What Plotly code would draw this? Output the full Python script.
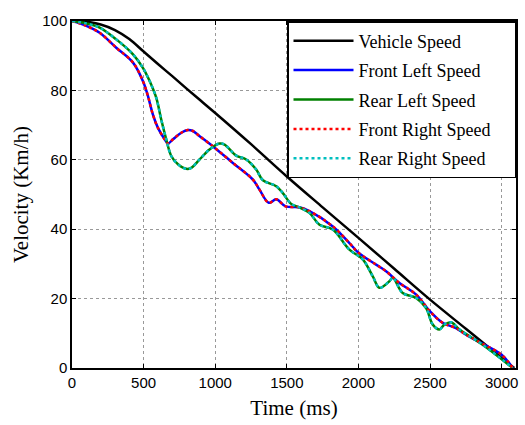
import plotly.graph_objects as go

# Vehicle speed
veh_t = [0, 100, 200, 300, 400, 500, 600, 700, 800, 900, 1000, 1250, 1500, 1750, 2000, 2250, 2500, 2750, 3000, 3088]
veh_v = [100, 99.8, 99.0, 97.4, 94.8, 91.2, 87.6, 84.1, 80.5, 77.0, 73.5, 64.5, 55.2, 46.3, 37.5, 28.6, 19.7, 11.3, 2.9, 0]

# Front left / front right (overlapping)
fl_t = [0, 100, 193, 309, 426, 495, 530, 565, 600, 647, 670, 705, 763, 809, 844, 891, 995, 1123, 1263, 1309, 1374, 1426, 1491, 1588, 1658, 1821, 1937, 2000, 2123, 2193, 2286, 2402, 2500, 2588, 2681, 2751, 2870, 3000, 3077]
fl_v = [100, 98.6, 96.6, 92.3, 88.0, 82.7, 78.4, 73.0, 69.2, 65.9, 64.7, 65.9, 67.8, 68.6, 68.3, 66.8, 63.5, 59.1, 54.3, 51.4, 47.6, 48.6, 46.6, 46.3, 45.2, 40.8, 36.0, 33.2, 29.8, 27.9, 24.5, 21.2, 16.3, 13.0, 11.5, 9.6, 6.9, 3.8, 0]
fr_t = [0, 100, 193, 309, 426, 495, 530, 565, 600, 647, 670, 705, 763, 809, 844, 891, 995, 1123, 1263, 1309, 1374, 1426, 1491, 1588, 1658, 1821, 1937, 2000, 2123, 2193, 2286, 2402, 2500, 2588, 2681, 2751, 2870, 3000, 3077]
fr_v = [100, 98.6, 96.6, 92.3, 88.0, 82.7, 78.4, 73.0, 69.2, 65.9, 64.7, 65.9, 67.8, 68.6, 68.3, 66.8, 63.5, 59.1, 54.3, 51.4, 47.6, 48.6, 46.6, 46.3, 45.2, 40.8, 36.0, 33.2, 29.8, 27.9, 24.5, 21.2, 16.3, 13.0, 11.5, 9.6, 6.9, 3.8, 0]

# Rear left / rear right (overlapping)
rl_t = [0, 100, 193, 309, 426, 495, 542, 588, 623, 658, 693, 740, 798, 833, 891, 960, 1030, 1065, 1147, 1216, 1286, 1333, 1426, 1472, 1530, 1588, 1658, 1728, 1821, 1937, 2030, 2100, 2147, 2216, 2240, 2309, 2402, 2472, 2519, 2565, 2600, 2647, 2705, 2867, 3077]
rl_v = [100, 99.3, 98.1, 94.7, 90.4, 86.5, 82.7, 77.9, 71.6, 65.9, 61.1, 58.7, 57.4, 57.7, 60.1, 63.0, 64.7, 64.4, 61.2, 60.1, 57.2, 54.1, 52.4, 50.4, 47.3, 46.3, 44.7, 41.3, 39.9, 34.1, 31.3, 26.4, 23.1, 25.0, 26.0, 21.6, 20.2, 17.3, 12.5, 11.1, 12.5, 13.2, 11.1, 6.7, 0]
rr_t = [0, 100, 193, 309, 426, 495, 542, 588, 623, 658, 693, 740, 798, 833, 891, 960, 1030, 1065, 1147, 1216, 1286, 1333, 1426, 1472, 1530, 1588, 1658, 1728, 1821, 1937, 2030, 2100, 2147, 2216, 2240, 2309, 2402, 2472, 2519, 2565, 2600, 2647, 2705, 2867, 3077]
rr_v = [100, 99.3, 98.1, 94.7, 90.4, 86.5, 82.7, 77.9, 71.6, 65.9, 61.1, 58.7, 57.4, 57.7, 60.1, 63.0, 64.7, 64.4, 61.2, 60.1, 57.2, 54.1, 52.4, 50.4, 47.3, 46.3, 44.7, 41.3, 39.9, 34.1, 31.3, 26.4, 23.1, 25.0, 26.0, 21.6, 20.2, 17.3, 12.5, 11.1, 12.5, 13.2, 11.1, 6.7, 0]

series_names = ["Vehicle Speed", "Front Left Speed", "Rear Left Speed", "Front Right Speed", "Rear Right Speed"]

x_ticks = [0, 500, 1000, 1500, 2000, 2500, 3000]
y_ticks = [0, 20, 40, 60, 80, 100]

SERIF = "'Times New Roman', 'Liberation Serif', serif"
SANS = "Arial, 'Liberation Sans', sans-serif"
PAD = "\u00a0" * 4

fig = go.Figure()
fig.add_trace(go.Scatter(x=veh_t, y=veh_v, mode="lines", name=series_names[0] + PAD, legendgroup="a",
                         line=dict(color="black", width=2.5, shape="spline")))
fig.add_trace(go.Scatter(x=fl_t, y=fl_v, mode="lines", name=series_names[1] + PAD, legendgroup="b",
                         line=dict(color="#0000ff", width=2.5, shape="spline")))
fig.add_trace(go.Scatter(x=rl_t, y=rl_v, mode="lines", name=series_names[2] + PAD, legendgroup="c",
                         line=dict(color="#008000", width=2.5, shape="spline")))
fig.add_trace(go.Scatter(x=fr_t, y=fr_v, mode="lines", name=series_names[3] + PAD, legendgroup="d",
                         line=dict(color="#ff0000", width=2.5, dash="dot", shape="spline")))
fig.add_trace(go.Scatter(x=rr_t, y=rr_v, mode="lines", name=series_names[4] + PAD, legendgroup="e",
                         line=dict(color="#00bfbf", width=2.5, dash="dot", shape="spline")))

axis_common = dict(showline=True, linecolor="black", linewidth=1.5, mirror="ticks",
                   ticks="inside", ticklen=4, tickcolor="black",
                   showgrid=True, gridcolor="#999999", griddash="dot", gridwidth=1,
                   zeroline=False, tickfont=dict(family=SANS, size=15, color="black"))

fig.update_layout(
    width=525, height=425,
    margin=dict(l=72, r=7, t=21, b=57),
    paper_bgcolor="white", plot_bgcolor="white",
    xaxis=dict(range=[0, 3100], tickvals=x_ticks, automargin=False,
               title=dict(text="Time (ms)", font=dict(family=SERIF, size=21, color="black"), standoff=11),
               **axis_common),
    yaxis=dict(range=[0, 100], tickvals=y_ticks,
               title=dict(text="Velocity (Km/h)", font=dict(family=SERIF, size=21, color="black"), standoff=8),
               **axis_common),
    legend=dict(x=1, y=1, xanchor="right", yanchor="top", bgcolor="white",
                bordercolor="black", borderwidth=1.5,
                font=dict(family=SERIF, size=18, color="black"),
                itemwidth=60, tracegroupgap=3),
    showlegend=True,
)

fig.write_html("out.html")
